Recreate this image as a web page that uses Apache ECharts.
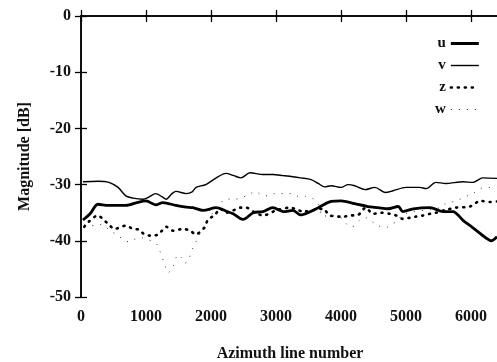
<!DOCTYPE html>
<html><head><meta charset="utf-8">
<script src="https://cdn.jsdelivr.net/npm/echarts@6/dist/echarts.min.js"></script>
<style>html,body{margin:0;padding:0;background:#fff}#c{width:497px;height:362px}</style>
</head><body><div id="c"></div>
<script>
// [azimuth line number, magnitude dB]
const uData = [[30,-36.3],[140,-35.2],[260,-33.5],[420,-33.7],[690,-33.7],[890,-33.1],[1000,-32.9],[1150,-33.6],[1260,-33.2],[1460,-33.7],[1620,-34.0],[1720,-34.1],[1880,-34.6],[2080,-34.1],[2230,-34.7],[2340,-35.2],[2490,-36.2],[2650,-35.0],[2800,-34.8],[2950,-34.1],[3110,-34.8],[3260,-34.6],[3380,-35.4],[3490,-35.0],[3650,-34.1],[3850,-33.0],[4000,-32.9],[4210,-33.4],[4410,-33.9],[4570,-34.1],[4720,-34.3],[4880,-33.9],[4950,-34.8],[5110,-34.3],[5370,-34.1],[5570,-34.8],[5720,-34.8],[5880,-36.4],[6030,-37.7],[6230,-39.5],[6310,-40.0],[6400,-39.3]];
const vData = [[30,-29.5],[260,-29.4],[430,-29.6],[570,-30.5],[690,-32.0],[800,-32.4],[950,-32.6],[1030,-32.3],[1150,-31.6],[1250,-32.2],[1310,-32.6],[1400,-31.6],[1460,-31.2],[1620,-31.6],[1710,-31.3],[1770,-30.5],[1920,-30.0],[2080,-28.8],[2230,-28.0],[2350,-28.4],[2460,-28.8],[2600,-27.9],[2800,-28.2],[2950,-28.2],[3110,-28.4],[3260,-28.6],[3380,-28.8],[3540,-29.1],[3650,-29.8],[3750,-30.4],[3850,-30.2],[4000,-30.5],[4110,-30.0],[4210,-30.2],[4370,-30.9],[4520,-30.5],[4680,-31.4],[4800,-31.1],[5000,-30.5],[5210,-30.5],[5310,-30.7],[5460,-29.6],[5610,-29.8],[5880,-29.5],[6030,-29.6],[6180,-28.8],[6400,-28.9]];
const zData = [[50,-37.5],[120,-36.6],[260,-35.5],[350,-36.3],[430,-37.1],[510,-37.9],[580,-37.7],[690,-37.3],[800,-37.9],[890,-38.0],[970,-38.8],[1090,-39.1],[1180,-38.9],[1230,-38.4],[1310,-37.5],[1420,-38.2],[1570,-37.9],[1680,-38.2],[1770,-38.9],[1830,-38.4],[1910,-37.5],[1950,-36.3],[2060,-35.4],[2140,-34.3],[2230,-35.0],[2340,-34.6],[2450,-34.1],[2540,-34.1],[2650,-34.8],[2800,-35.5],[3000,-34.6],[3220,-34.1],[3290,-34.3],[3420,-34.8],[3720,-34.3],[3830,-35.5],[4030,-35.7],[4140,-35.5],[4260,-35.4],[4380,-34.1],[4490,-35.2],[4610,-35.0],[4750,-35.2],[4850,-35.5],[4950,-36.1],[5060,-35.9],[5150,-35.7],[5260,-35.5],[5370,-35.2],[5460,-35.0],[5610,-34.5],[5770,-34.1],[5980,-33.9],[6150,-32.9],[6290,-33.1],[6400,-33.0]];
const wData = [[50,-37.1],[200,-37.3],[310,-37.1],[430,-38.0],[570,-39.1],[660,-39.8],[740,-40.2],[850,-39.6],[950,-39.5],[1030,-39.8],[1150,-40.4],[1220,-42.0],[1280,-44.0],[1340,-45.7],[1420,-44.5],[1490,-42.5],[1550,-43.0],[1600,-44.0],[1650,-43.5],[1720,-41.3],[1800,-39.5],[1880,-37.5],[1950,-36.3],[2030,-35.0],[2140,-33.4],[2230,-32.5],[2340,-32.7],[2460,-32.3],[2570,-31.9],[2680,-31.2],[2770,-31.8],[2880,-32.0],[2980,-31.6],[3110,-31.6],[3230,-31.6],[3340,-32.1],[3450,-32.1],[3540,-32.3],[3650,-33.4],[3720,-35.7],[3800,-35.5],[4000,-35.9],[4140,-37.5],[4210,-37.3],[4290,-36.3],[4380,-35.9],[4540,-37.1],[4680,-37.7],[4770,-37.1],[4850,-36.6],[4950,-35.4],[5110,-34.8],[5340,-34.5],[5520,-34.1],[5610,-33.4],[5770,-32.9],[5920,-32.1],[6030,-31.6],[6140,-30.7],[6290,-30.5],[6400,-30.4]];
const seriesNames = ['u','v','z','w'];
const xTitle = 'Azimuth line number';
const yTitle = 'Magnitude [dB]';

const font = '"Liberation Serif","DejaVu Serif",serif';
const axisLine = {show:true, lineStyle:{color:'#000', width:1.5}};
const tick = {show:true, inside:true, length:6, lineStyle:{color:'#000', width:1.3}};
const legendWidths = {u:3, v:1.4, z:2.6, w:1};
const chart = echarts.init(document.getElementById('c'));
chart.setOption({
  animation:false,
  backgroundColor:'#fff',
  grid:{left:81, top:16, width:418, bottom:65, containLabel:false, outerBoundsMode:'none'},
  legend:{
    orient:'vertical', left:430, top:31, align:'right',
    itemWidth:28, itemHeight:12, itemGap:7,
    itemStyle:{opacity:0},
    textStyle:{fontFamily:font, fontWeight:'bold', fontSize:15, color:'#111', padding:[0,0,0,0]},
    data:seriesNames.map(n=>({name:n, lineStyle:{width:legendWidths[n]}}))
  },
  xAxis:[{
    type:'value', min:0, max:6430, interval:1000, position:'bottom',
    axisLine:axisLine, axisTick:tick, splitLine:{show:false},
    axisLabel:{fontFamily:font, fontWeight:'bold', fontSize:16, color:'#111', margin:12, showMaxLabel:false,
      formatter:v=>String(v)},
    name:xTitle, nameLocation:'middle', nameGap:49,
    nameTextStyle:{fontFamily:font, fontWeight:'bold', fontSize:16, color:'#111'}
  },{
    type:'value', min:0, max:6430, interval:1000, position:'top',
    axisLine:axisLine, axisTick:tick, splitLine:{show:false}, axisLabel:{show:false}
  }],
  yAxis:[{
    type:'value', min:-50, max:0, interval:10, position:'left',
    axisLine:axisLine, axisTick:tick, splitLine:{show:false},
    axisLabel:{fontFamily:font, fontWeight:'bold', fontSize:16, color:'#111', margin:10},
    name:yTitle, nameLocation:'middle', nameGap:48, nameRotate:90,
    nameTextStyle:{fontFamily:font, fontWeight:'bold', fontSize:16, color:'#111'}
  },{
    type:'value', min:-50, max:0, interval:10, position:'right',
    axisLine:axisLine, axisTick:tick, splitLine:{show:false}, axisLabel:{show:false}
  }],
  series:[
    {name:'u', type:'line', data:uData, showSymbol:false, symbol:'none', smooth:0.3,
     lineStyle:{color:'#000', width:2.8}, itemStyle:{color:'#000'}},
    {name:'v', type:'line', data:vData, showSymbol:false, symbol:'none', smooth:0.3,
     lineStyle:{color:'#000', width:1.4}, itemStyle:{color:'#000'}},
    {name:'z', type:'line', data:zData, showSymbol:false, symbol:'none', smooth:0.3,
     lineStyle:{color:'#000', width:2.6, type:[1,6], cap:'round'}, itemStyle:{color:'#000'}},
    {name:'w', type:'line', data:wData, showSymbol:false, symbol:'none', smooth:0.3,
     lineStyle:{color:'#333', width:1, type:[1,7]}, itemStyle:{color:'#333'}}
  ]
});
</script></body></html>
